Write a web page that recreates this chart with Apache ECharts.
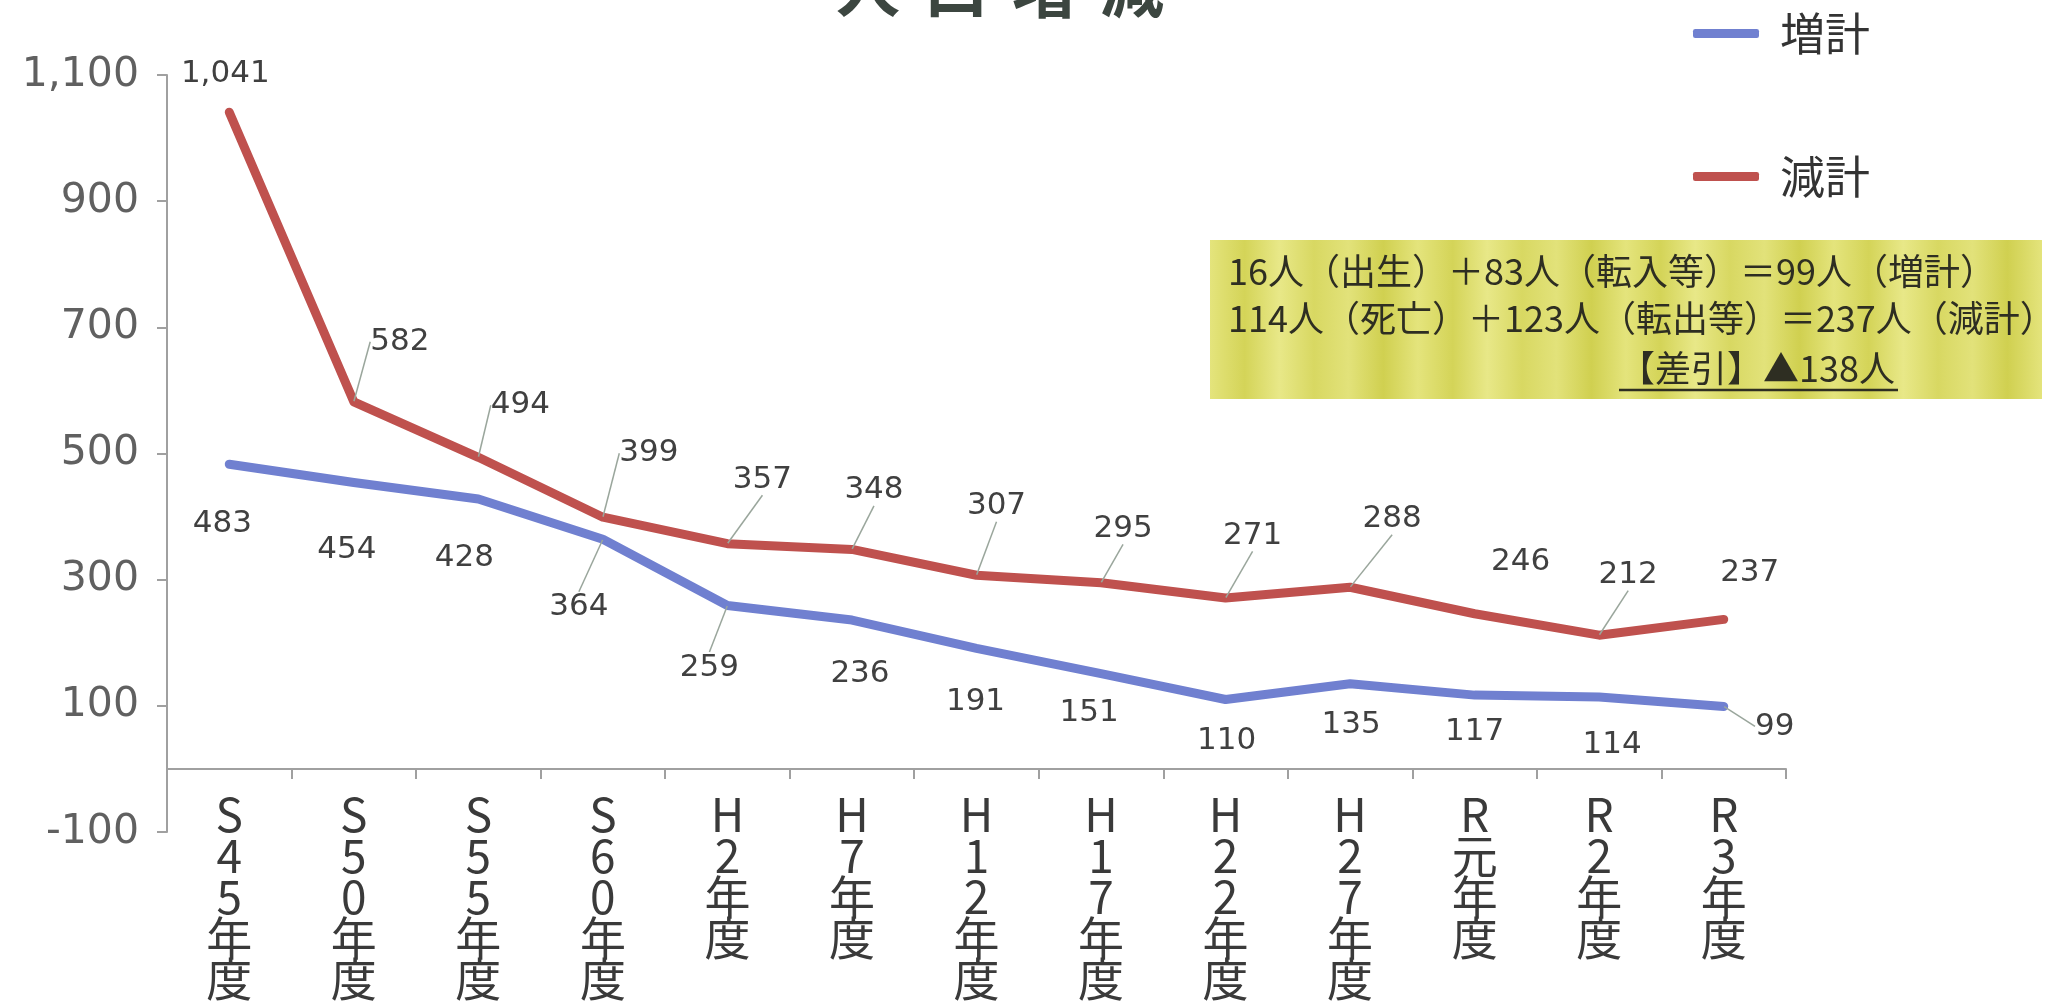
<!DOCTYPE html>
<html>
<head>
<meta charset="utf-8">
<script src="https://cdn.jsdelivr.net/npm/echarts@6/dist/echarts.min.js"></script>
<style>
html,body{margin:0;padding:0;background:#fff;}
#chart{width:2052px;height:1001px;}
</style>
</head>
<body>
<div id="chart"></div>
<script>
// ---- data ----
const categories = ['S45年度','S50年度','S55年度','S60年度','H2年度','H7年度','H12年度','H17年度','H22年度','H27年度','R元年度','R2年度','R3年度'];
const increaseTotal = [483,454,428,364,259,236,191,151,110,135,117,114,99];   // 増計
const decreaseTotal = [1041,582,494,399,357,348,307,295,271,288,246,212,237]; // 減計
const seriesNames = ['増計','減計'];
const yTicks = {min:-100, max:1100, interval:200};
const titleChars = ['人','口','増','減'];
const noteLines = [
  '16人（出生）＋83人（転入等）＝99人（増計）',
  '114人（死亡）＋123人（転出等）＝237人（減計）',
  '【差引】▲138人'
];

// ---- label placement (style, px offsets from each point) ----
const redLabelOffset = [[-4,-38],[46,-60],[42,-52],[46,-64],[35,-64],[22,-59],[20,-69],[22,-54],[27,-62],[42,-68],[46,-52],[29,-60],[26,-46]];
const redLeader = [0,1,1,1,1,1,1,1,1,1,0,1,0];
const blueLabelOffset = [[-7,60],[-7,67],[-14,59],[-24,68],[-18,62],[8,54],[-1,54],[-12,39],[1,41],[1,41],[0,37],[13,48],[51,20]];
const blueLeader = [0,0,0,1,1,0,0,0,0,0,0,0,1];

const BLUE = '#7080d0';
const RED = '#bf514e';
const fmt = v => Number(v).toLocaleString('en-US');

function makeData(values, leaders){
  return values.map((v,i)=>({value:v, labelLine:{show: !!leaders[i]}}));
}
function layoutFn(offsets){
  return function(p){
    const o = offsets[p.dataIndex];
    const cx = p.rect.x + p.rect.width/2;
    const cy = p.rect.y + p.rect.height/2;
    return {x: cx + o[0], y: cy + o[1], align:'center', verticalAlign:'middle'};
  };
}

const chart = echarts.init(document.getElementById('chart'), null, {renderer:'canvas'});

// stripes for the note box
const stripeStops = [];
const stripeCols = ['#e4e47c','#d4d458','#e8e888','#d8d862','#e2e27a','#d0d050'];
for (let i=0;i<=24;i++){ stripeStops.push({offset:i/24, color: stripeCols[i%stripeCols.length]}); }

const option = {
  backgroundColor:'#ffffff',
  animation:false,
  grid:{left:167, right:266, top:75, bottom:169, containLabel:false, outerBoundsMode:'none'},
  legend:{
    orient:'vertical', left:1688, top:6, itemWidth:66, itemHeight:9, itemGap:98,
    icon:'roundRect',
    textStyle:{fontFamily:'Noto Sans CJK JP', fontSize:45, color:'#333', padding:[0,0,0,16]},
    data:seriesNames
  },
  xAxis:{
    type:'category', data:categories, boundaryGap:true,
    axisLine:{show:true, lineStyle:{color:'#a0a0a0', width:2}},
    axisTick:{show:true, length:10, lineStyle:{color:'#a0a0a0', width:2}},
    axisLabel:{
      interval:0, margin:-38, fontFamily:'Noto Sans CJK JP', fontSize:46, lineHeight:41,
      color:'#3a3a3a', verticalAlign:'top',
      formatter: v => v.split('').join('\n')
    }
  },
  yAxis:{
    type:'value', min:yTicks.min, max:yTicks.max, interval:yTicks.interval,
    splitLine:{show:false},
    axisLine:{show:true, lineStyle:{color:'#a0a0a0', width:2}},
    axisTick:{show:true, length:10, lineStyle:{color:'#a0a0a0', width:2}},
    axisLabel:{margin:28, fontFamily:'DejaVu Sans', fontSize:41, color:'#606060', formatter: fmt}
  },
  series:[
    {
      name:seriesNames[0], type:'line', data:makeData(increaseTotal, blueLeader),
      symbol:'circle', symbolSize:1, showSymbol:true,
      lineStyle:{color:BLUE, width:9, cap:'round', join:'round'},
      itemStyle:{color:BLUE},
      label:{show:true, position:'inside', fontFamily:'DejaVu Sans', fontSize:31, color:'#404040', formatter:p=>fmt(p.value)},
      labelLine:{show:true, lineStyle:{color:'#9aa69c', width:1.5}},
      labelLayout: layoutFn(blueLabelOffset),
      z:3
    },
    {
      name:seriesNames[1], type:'line', data:makeData(decreaseTotal, redLeader),
      symbol:'circle', symbolSize:1, showSymbol:true,
      lineStyle:{color:RED, width:9, cap:'round', join:'round'},
      itemStyle:{color:RED},
      label:{show:true, position:'inside', fontFamily:'DejaVu Sans', fontSize:31, color:'#404040', formatter:p=>fmt(p.value)},
      labelLine:{show:true, lineStyle:{color:'#9aa69c', width:1.5}},
      labelLayout: layoutFn(redLabelOffset),
      z:3
    }
  ],
  graphic:[
    // title (clipped at top edge)
    ...titleChars.map((c,i)=>({
      type:'text', left: 836 + i*88, top:-44, z:10,
      style:{text:c, font:'bold 64px "Noto Sans CJK JP"', fill:'#3c4640'}
    })),
    // note box
    {type:'rect', shape:{x:1210, y:240, width:832, height:159}, z:5,
     style:{fill:new echarts.graphic.LinearGradient(0,0,1,0, stripeStops)}},
    {type:'text', x:1228, y:271, z:6, style:{text:noteLines[0], font:'36px "Noto Sans CJK JP"', fill:'#2e2e22', textVerticalAlign:'middle'}},
    {type:'text', x:1228, y:318, z:6, style:{text:noteLines[1], font:'36px "Noto Sans CJK JP"', fill:'#2e2e22', textVerticalAlign:'middle'}},
    {type:'text', x:1619, y:368, z:6, style:{text:noteLines[2], font:'36px "Noto Sans CJK JP"', fill:'#2e2e22', textVerticalAlign:'middle'}},
    {type:'line', shape:{x1:1619, y1:390, x2:1898, y2:390}, z:6, style:{stroke:'#2e2e22', lineWidth:2.5}}
  ]
};
chart.setOption(option);
</script>
</body>
</html>
